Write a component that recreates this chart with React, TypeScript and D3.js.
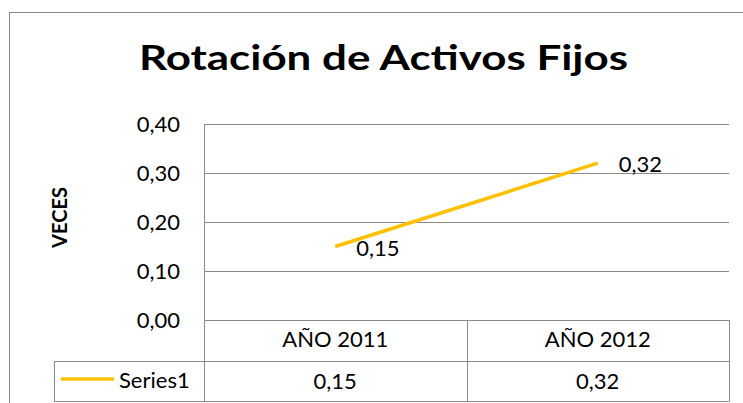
import * as d3 from "d3";

const categories = ["AÑO 2011", "AÑO 2012"];
const values = [0.15, 0.32];
const yTicks = [0, 0.1, 0.2, 0.3, 0.4];
const seriesName = "Series1";
const title = "Rotación de Activos Fijos";
const yTitle = "VECES";

const W = 743;
const H = 403;
const grid = "#8a8a8a";
const lineColor = "#ffc000";
const font = "Lato, 'Open Sans', sans-serif";

const fmt = (v: number) => d3.format(".2f")(v).replace(".", ",");

export default function App() {
  const x = d3.scaleBand<string>().domain(categories).range([204, 729]);
  const y = d3.scaleLinear().domain([0, 0.4]).range([320, 124]);
  const cx = (c: string) => (x(c) as number) + x.bandwidth() / 2;

  const line = d3
    .line<number>()
    .x((_, i) => cx(categories[i]))
    .y((d) => y(d));

  const rowTop = y(0);
  const rowMid = 361;
  const rowBot = 401.5;
  const legendLeft = 54;

  return (
    <svg
      width={W}
      height={H}
      style={{ position: "absolute", left: 0, top: 0, background: "#fff" }}
      fontFamily={font}
    >
      {/* chart frame, cut off on the right and bottom */}
      <rect x={9.5} y={12.5} width={800} height={500} fill="#fff" stroke="#888" />

      <text
        x={383.5}
        y={70}
        textAnchor="middle"
        fontSize={35}
        fontWeight="bold"
        fill="#000"
        textLength={489}
        lengthAdjust="spacingAndGlyphs"
      >
        {title}
      </text>

      {/* gridlines */}
      {yTicks.map((t) => (
        <line
          key={t}
          x1={204}
          x2={729}
          y1={Math.round(y(t)) + 0.5}
          y2={Math.round(y(t)) + 0.5}
          stroke={grid}
        />
      ))}
      {yTicks.map((t) => (
        <text
          key={"l" + t}
          x={180}
          y={y(t) + 7.5}
          textAnchor="end"
          fontSize={22}
          fill="#000"
        >
          {fmt(t)}
        </text>
      ))}
      <line x1={204.5} x2={204.5} y1={124} y2={rowBot} stroke={grid} />

      <text
        transform={`translate(67,217.5) rotate(-90)`}
        textAnchor="middle"
        fontSize={20}
        fontWeight="bold"
        fill="#000"
      >
        {yTitle}
      </text>

      {/* data table */}
      <line x1={legendLeft} x2={729} y1={rowMid + 0.5} y2={rowMid + 0.5} stroke={grid} />
      <line x1={legendLeft} x2={729} y1={rowBot} y2={rowBot} stroke={grid} />
      <line x1={legendLeft + 0.5} x2={legendLeft + 0.5} y1={rowMid} y2={rowBot} stroke={grid} />
      {categories.map((c) => (
        <line
          key={"v" + c}
          x1={Math.round((x(c) as number) + x.bandwidth()) + 0.5}
          x2={Math.round((x(c) as number) + x.bandwidth()) + 0.5}
          y1={rowTop}
          y2={rowBot}
          stroke={grid}
        />
      ))}
      {categories.map((c, i) => (
        <g key={"t" + c}>
          <text x={cx(c)} y={347} textAnchor="middle" fontSize={22} fill="#000">
            {c}
          </text>
          <text x={cx(c)} y={389} textAnchor="middle" fontSize={22} fill="#000">
            {fmt(values[i])}
          </text>
        </g>
      ))}
      <line x1={61} x2={114} y1={379} y2={379} stroke={lineColor} strokeWidth={3.5} />
      <text x={119} y={388} fontSize={22} fill="#000">
        {seriesName}
      </text>

      {/* series */}
      <path d={line(values) ?? ""} fill="none" stroke={lineColor} strokeWidth={3.5} />
      {values.map((v, i) => (
        <text
          key={"d" + i}
          x={cx(categories[i]) + 21}
          y={y(v) + 9}
          fontSize={22}
          fill="#000"
        >
          {fmt(v)}
        </text>
      ))}
    </svg>
  );
}
